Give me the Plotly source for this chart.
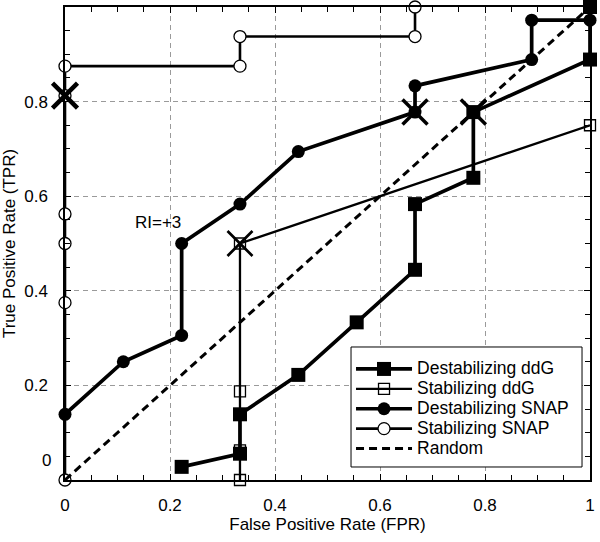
import plotly.graph_objects as go

# ---- data ----
fpr_dest_ddg = [0.2222, 0.3333, 0.3333, 0.4444, 0.5556, 0.6667, 0.6667, 0.7778, 0.7778, 1.0, 1.0]
tpr_dest_ddg = [0.0278, 0.0556, 0.1389, 0.2222, 0.3333, 0.4444, 0.5833, 0.6389, 0.7778, 0.8889, 1.0]

fpr_stab_ddg = [0.3333, 0.3333, 0.3333, 0.3333, 1.0]
tpr_stab_ddg = [0.0, 0.0625, 0.1875, 0.5, 0.75]

fpr_dest_snap = [0.0, 0.1111, 0.2222, 0.2222, 0.3333, 0.4444, 0.6667, 0.6667, 0.8889, 0.8889, 1.0]
tpr_dest_snap = [0.1389, 0.25, 0.3056, 0.5, 0.5833, 0.6944, 0.7778, 0.8333, 0.8889, 0.9722, 0.9722]

fpr_stab_snap = [0.0, 0.0, 0.0, 0.0, 0.0, 0.0, 0.3333, 0.3333, 0.6667, 0.6667]
tpr_stab_snap = [0.0, 0.375, 0.5, 0.5625, 0.8125, 0.875, 0.875, 0.9375, 0.9375, 1.0]

fpr_random = [0.0, 1.0]
tpr_random = [0.0, 1.0]

# points at RI = +3 threshold
ri_fpr = [0.0, 0.3333, 0.6667, 0.7778]
ri_tpr = [0.8125, 0.5, 0.7778, 0.7778]
ri_label = "RI=+3"

series_names = ["Destabilizing ddG", "Stabilizing ddG", "Destabilizing SNAP",
                "Stabilizing SNAP", "Random"]

y_tickvals = [0, 0.2, 0.4, 0.6, 0.8, 1]
y_ticktext = ["", "0.2", "0.4", "0.6", "0.8", "1"]

FONT = "Liberation Sans, Arial, Helvetica, sans-serif"
FS = 17


def leg(name):
    return f'<span style="font-size:17.5px">{name}</span>'


fig = go.Figure()

fig.add_trace(go.Scatter(
    x=fpr_dest_ddg, y=tpr_dest_ddg, mode="lines+markers", name=leg(series_names[0]),
    line=dict(color="black", width=3.7),
    marker=dict(symbol="square", size=14, color="black", line=dict(color="black", width=0)),
    cliponaxis=False))

fig.add_trace(go.Scatter(
    x=fpr_stab_ddg, y=tpr_stab_ddg, mode="lines+markers", name=leg(series_names[1]),
    line=dict(color="black", width=2.3),
    marker=dict(symbol="square", size=11, color="rgba(0,0,0,0)", line=dict(color="black", width=1.3)),
    cliponaxis=False))

fig.add_trace(go.Scatter(
    x=fpr_dest_snap, y=tpr_dest_snap, mode="lines+markers", name=leg(series_names[2]),
    line=dict(color="black", width=3.7),
    marker=dict(symbol="circle", size=13, color="black", line=dict(color="black", width=0)),
    cliponaxis=False))

fig.add_trace(go.Scatter(
    x=fpr_stab_snap, y=tpr_stab_snap, mode="lines+markers", name=leg(series_names[3]),
    line=dict(color="black", width=2.6),
    marker=dict(symbol="circle", size=12, color="white", line=dict(color="black", width=1.3)),
    cliponaxis=False))

fig.add_trace(go.Scatter(
    x=fpr_random, y=tpr_random, mode="lines", name=leg(series_names[4]),
    line=dict(color="black", width=3, dash="8px,5px"),
    cliponaxis=False))

fig.add_trace(go.Scatter(
    x=ri_fpr, y=ri_tpr, mode="markers", showlegend=False,
    marker=dict(symbol="x-thin", size=25, color="black",
                line=dict(color="black", width=[4.5, 2.7, 3.5, 3.5])),
    cliponaxis=False))

fig.add_annotation(x=0.177, y=0.544, text=ri_label, showarrow=False,
                   font=dict(family=FONT, size=FS, color="black"))

# y "0" label sits a little above the axis in the reference
fig.add_annotation(x=0, y=0.042, xref="paper", yref="y", text="0", showarrow=False,
                   xanchor="right", xshift=-12, font=dict(family=FONT, size=FS, color="black"))

# legend frame (drawn as a box behind the legend entries)
fig.add_shape(type="rect", xref="paper", yref="paper",
              x0=0.5448, x1=0.9848, y0=0.0275, y1=0.2812,
              line=dict(color="black", width=1), fillcolor="white", layer="above")

axis_common = dict(
    range=[0, 1], showline=True, linecolor="black", linewidth=1.5, mirror="ticks",
    ticks="inside", ticklen=6, tickwidth=1, tickcolor="black",
    showgrid=True, gridcolor="#9a9a9a", gridwidth=1, griddash="5px,4px",
    zeroline=False, tickfont=dict(family=FONT, size=FS, color="black"),
    minor=dict(ticks="inside", ticklen=5, tickwidth=1, tickcolor="black",
               tickmode="linear", tick0=0, dtick=0.05, showgrid=False),
)

fig.update_xaxes(**axis_common, tickmode="linear", tick0=0, dtick=0.2,
                 ticklabelstandoff=9,
                 title=dict(text="False Positive Rate (FPR)", standoff=4,
                            font=dict(family=FONT, size=FS, color="black")))
fig.update_yaxes(**axis_common, tickmode="array", tickvals=y_tickvals, ticktext=y_ticktext,
                 ticklabelstandoff=12,
                 title=dict(text="True Positive Rate (TPR)", standoff=11,
                            font=dict(family=FONT, size=FS, color="black")))

fig.update_layout(
    width=600, height=542,
    margin=dict(l=65, r=10, t=7, b=62, autoexpand=False),
    plot_bgcolor="white", paper_bgcolor="white",
    font=dict(family=FONT, size=FS, color="black"),
    legend=dict(x=0.5448, y=0.2664, xanchor="left", yanchor="top",
                bgcolor="rgba(0,0,0,0)", borderwidth=0,
                font=dict(family=FONT, size=13, color="black"),
                itemwidth=56, tracegroupgap=0),
    showlegend=True,
)

fig.write_html("out.html", config={"displayModeBar": False},
               post_script="document.body.style.margin='0px';document.body.style.overflow='hidden';")
